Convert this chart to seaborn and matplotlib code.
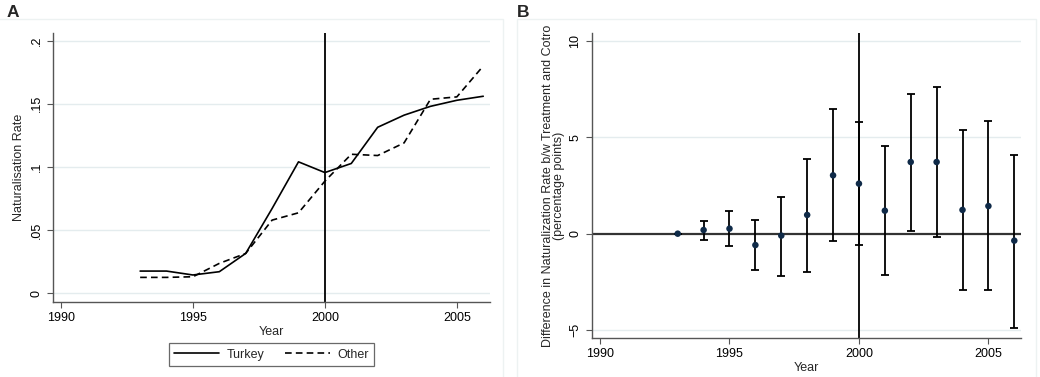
import matplotlib
matplotlib.use("Agg")
import matplotlib.pyplot as plt
import seaborn as sns
import pandas as pd
from matplotlib.patches import Rectangle

years = list(range(1993, 2007))
turkey = [0.0174, 0.0174, 0.0143, 0.0169, 0.0314, 0.067, 0.104, 0.0955,
          0.1027, 0.1314, 0.141, 0.148, 0.1528, 0.156]
other = [0.0124, 0.0124, 0.0129, 0.0235, 0.0314, 0.0578, 0.0636, 0.0887,
         0.110, 0.109, 0.119, 0.1536, 0.1555, 0.180]

diff = [0.0, 0.19, 0.26, -0.59, -0.10, 0.97, 3.02, 2.59, 1.19, 3.71, 3.71, 1.23, 1.43, -0.36]
ci_hi = [0.0, 0.66, 1.17, 0.71, 1.92, 3.87, 6.46, 5.77, 4.54, 7.25, 7.58, 5.37, 5.84, 4.09]
ci_lo = [0.0, -0.31, -0.62, -1.88, -2.18, -1.97, -0.36, -0.59, -2.16, 0.14, -0.17, -2.94, -2.94, -4.89]

a_yticks = [0, 0.05, 0.1, 0.15, 0.2]
a_ylabels = ["0", ".05", ".1", ".15", ".2"]
b_yticks = [-5, 0, 5, 10]
x_ticks = [1990, 1995, 2000, 2005]

sns.set_theme(style="white")
plt.rcParams["font.family"] = ["Liberation Sans", "DejaVu Sans"]
plt.rcParams["font.size"] = 9

rates = pd.DataFrame({"Year": years * 2,
                      "rate": turkey + other,
                      "group": ["Turkey"] * len(years) + ["Other"] * len(years)})
effects = pd.DataFrame({"Year": years, "diff": diff, "hi": ci_hi, "lo": ci_lo})

fig = plt.figure(figsize=(10.4, 3.77), dpi=100)

# faint graph-region outlines (Stata style)
for x0, x1 in [(-0.01, 0.484), (0.497, 0.996)]:
    fig.patches.append(Rectangle((x0, -0.01), x1 - x0, 0.96, transform=fig.transFigure,
                                 fill=False, edgecolor="#edf2f2", linewidth=1))

grid_c = "#e4ecee"
spine_c = "#555555"


def style_axes(ax):
    sns.despine(ax=ax)
    for s in ["left", "bottom"]:
        ax.spines[s].set_color(spine_c)
        ax.spines[s].set_linewidth(1.0)
    ax.tick_params(axis="both", which="both", direction="out", length=4, width=0.8,
                   colors=spine_c, labelcolor="black", labelsize=9,
                   bottom=True, left=True)
    for lab in ax.get_yticklabels():
        lab.set_rotation(90)
        lab.set_va("center")


# ---- Panel A ----
axA = fig.add_axes([0.051, 0.199, 0.420, 0.714])
sns.lineplot(data=rates, x="Year", y="rate", hue="group", style="group",
             palette=["black", "black"], dashes={"Turkey": "", "Other": (4, 2.5)},
             linewidth=1.2, ax=axA, legend=False)
axA.set_xlim(1989.7, 2006.25)
axA.set_ylim(-0.0071, 0.2063)
axA.set_yticks(a_yticks)
axA.set_yticklabels(a_ylabels)
axA.set_xticks(x_ticks)
for t in a_yticks:
    axA.axhline(t, color=grid_c, linewidth=1, zorder=0)
axA.axvline(2000, color="black", linewidth=1.3)
axA.set_xlabel("Year", fontsize=9, labelpad=1)
axA.set_ylabel("Naturalisation Rate", fontsize=9, labelpad=4)
style_axes(axA)
h1, = axA.plot([], [], color="black", linewidth=1.2, label="Turkey")
h2, = axA.plot([], [], color="black", linewidth=1.2, linestyle=(0, (4, 2.5)), label="Other")
leg = axA.legend(handles=[h1, h2], loc="upper center", bbox_to_anchor=(0.5, -0.152),
                 ncol=2, frameon=True, fancybox=False, fontsize=9, handlelength=3.6,
                 columnspacing=1.6, borderpad=0.45, handletextpad=0.6, borderaxespad=0)
leg.get_frame().set_edgecolor("#444444")
leg.get_frame().set_linewidth(0.9)

# ---- Panel B ----
axB = fig.add_axes([0.569, 0.104, 0.413, 0.808])
for t in [-5, 5, 10]:
    axB.axhline(t, color=grid_c, linewidth=1, zorder=0)
axB.axhline(0, color="#333333", linewidth=1.6, zorder=1)
axB.axvline(2000, color="black", linewidth=1.3, zorder=1)
axB.errorbar(effects["Year"], effects["diff"],
             yerr=[effects["diff"] - effects["lo"], effects["hi"] - effects["diff"]],
             fmt="none", ecolor="black", elinewidth=1.3, capsize=3, capthick=1.3, zorder=2)
sns.scatterplot(data=effects, x="Year", y="diff", color="#0f2a48", s=22,
                edgecolor="none", ax=axB, zorder=3)
axB.set_xlim(1989.68, 2006.27)
axB.set_ylim(-5.39, 10.38)
axB.set_yticks(b_yticks)
axB.set_xticks(x_ticks)
axB.set_xlabel("Year", fontsize=9, labelpad=1)
axB.set_ylabel("Difference in Naturalization Rate b/w Treatment and Cotro\n(percentage points)",
               fontsize=9, labelpad=3, linespacing=0.95)
style_axes(axB)

fig.text(0.006, 0.966, "A", fontsize=12.5, fontweight="bold", va="center", ha="left")
fig.text(0.497, 0.966, "B", fontsize=12.5, fontweight="bold", va="center", ha="left")

fig.savefig("out.png", dpi=100)
